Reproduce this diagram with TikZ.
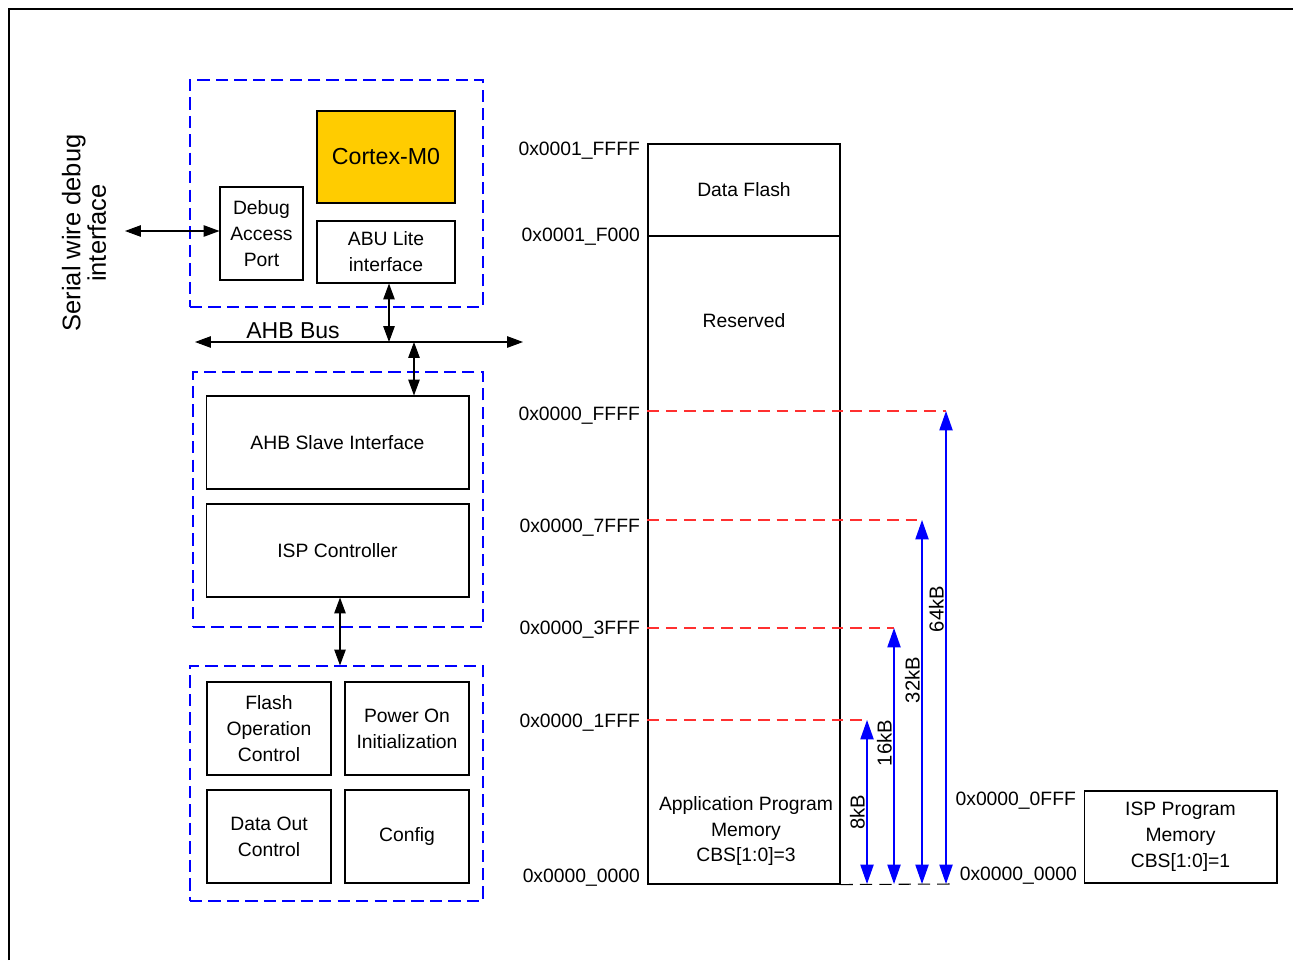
\documentclass[tikz,border=0pt]{standalone}
\usepackage{fontspec}
\setmainfont{Liberation Sans}
\usetikzlibrary{arrows.meta,calc}
\definecolor{dblue}{HTML}{0000FF}
\definecolor{dred}{HTML}{FF3030}
\definecolor{core}{HTML}{FFCC00}

\begin{document}
\begin{tikzpicture}[x=0.02cm,y=-0.02cm,font=\fontsize{11}{14.7}\selectfont,
    blk/.style={draw,line width=0.6pt,align=center,inner sep=2pt},
    grp/.style={draw=dblue,line width=0.7pt,dash pattern=on 7pt off 3.5pt},
    dbl/.style={{Triangle[length=9pt,width=6.5pt]}-{Triangle[length=9pt,width=6.5pt]},
                line width=0.6pt},
    sz/.style={{Triangle[length=11pt,width=7.5pt]}-{Triangle[length=11pt,width=7.5pt]},
               dblue,line width=0.8pt},
    adr/.style={anchor=east,inner sep=1pt}]
  \useasboundingbox (0,0) rectangle (1293,960);
  \draw[line width=1.3pt] (9,960) -- (9,9) -- (1293,9);

  % core
  \node[grp,minimum width=5.86cm,minimum height=4.54cm] (gcore) at (336.5,193.5) {};
  \node[blk,fill=core,minimum width=2.76cm,minimum height=1.84cm,
        font=\fontsize{13.2}{16}\selectfont] (m0) at (386,157) {Cortex-M0};
  \node[blk,minimum width=1.66cm,minimum height=1.86cm] (dap) at (261.5,233.5)
    {Debug\\Access\\Port};
  \node[blk,minimum width=2.76cm,minimum height=1.24cm] (abu) at (386,252)
    {ABU Lite\\interface};
  \coordinate (swd) at (125,231);
  \draw[dbl] (swd) -- (swd -| dap.west);
  \node[rotate=90,align=center,font=\fontsize{14.5}{14.5}\selectfont] (swdlab)
    at (84,233) {Serial wire debug\\interface};

  % bus
  \coordinate (busl) at (195,342);
  \coordinate (busr) at (523,342);
  \draw[dbl] (busl) -- (busr);
  \node[font=\fontsize{13.1}{15}\selectfont] (buslab) at (293,331) {AHB Bus};
  \draw[dbl] ([xshift=0.06cm]abu.south) -- ([xshift=0.06cm]abu.south |- busl);

  % isp
  \node[grp,minimum width=5.8cm,minimum height=5.1cm] (gisp) at (338,499.5) {};
  \node[blk,minimum width=5.26cm,minimum height=1.86cm] (ahbs) at (337.5,442.5)
    {AHB Slave Interface};
  \node[blk,minimum width=5.26cm,minimum height=1.86cm] (ispc) at (337.5,550.5)
    {ISP Controller};
  \draw[dbl] ([xshift=1.53cm]ahbs.north |- busl) -- ([xshift=1.53cm]ahbs.north);

  % flash control
  \node[grp,minimum width=5.86cm,minimum height=4.7cm] (gfmc) at (336.5,783.5) {};
  \node[blk,minimum width=2.48cm,minimum height=1.86cm] (fop) at (269,728.5)
    {Flash\\Operation\\Control};
  \node[blk,minimum width=2.48cm,minimum height=1.86cm] (por) at (407,728.5)
    {Power On\\Initialization};
  \node[blk,minimum width=2.48cm,minimum height=1.86cm] (dout) at (269,836.5)
    {Data Out\\Control};
  \node[blk,minimum width=2.48cm,minimum height=1.86cm] (cfg) at (407,836.5)
    {Config};
  \draw[dbl] ([xshift=0.05cm]ispc.south) -- ([xshift=0.05cm]ispc.south |- gfmc.north);

  % memory map
  \node[blk,line width=0.7pt,minimum width=3.84cm,minimum height=1.84cm] (df)
    at (744,190) {Data Flash};
  \node[blk,line width=0.7pt,minimum width=3.84cm,minimum height=12.96cm] (aprom)
    at (744,560) {};
  \node (rsv) at (744,321) {Reserved};
  \node[align=center] (aplab) at (746,831) {Application Program\\Memory\\CBS[1:0]=3};
  \foreach \y/\t in {151/0x0001\_FFFF,237/0x0001\_F000,416/0x0000\_FFFF,
                     528/0x0000\_7FFF,630/0x0000\_3FFF,723/0x0000\_1FFF,
                     878/0x0000\_0000}
    \node[adr] at (642,\y) {\t};
  \foreach \y/\x/\s/\ly [count=\i] in {720/867/8kB/812,628/894/16kB/743,
                                       520/922/32kB/680,411/946/64kB/609}{
    \coordinate (top\i) at (\x,\y);
    \coordinate (bot\i) at (\x,884);
    \draw[dred,line width=0.7pt,dash pattern=on 6.5pt off 4pt]
      (aprom.west |- top\i) -- (top\i);
    \draw[sz] (top\i) -- (bot\i);
    \node[rotate=90,anchor=south,inner sep=1pt,font=\fontsize{11.5}{13}\selectfont]
      at (\x,\ly) {\s};
  }
  \coordinate (bend) at (950,884);
  \draw[line width=0.6pt,dash pattern=on 7pt off 4pt] (aprom.south east) -- (bend);

  % ldrom
  \node[adr] (lfff) at (1078,801) {0x0000\_0FFF};
  \node[adr] (lzero) at (1079,876) {0x0000\_0000};
  \node[blk,minimum width=3.86cm,minimum height=1.84cm] (ldrom) at (1180.5,837)
    {ISP Program\\Memory\\CBS[1:0]=1};
\end{tikzpicture}
\end{document}
